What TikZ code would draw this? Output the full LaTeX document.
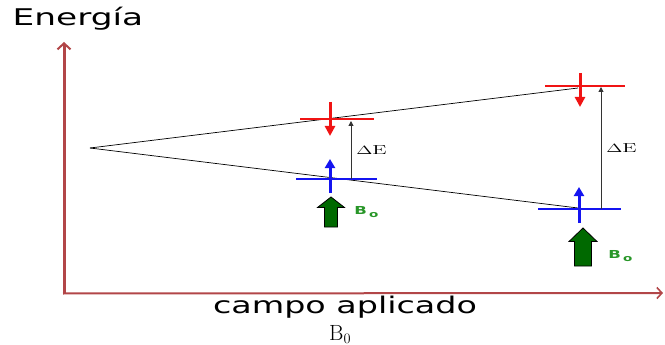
\documentclass[tikz,border=0pt]{standalone}
\usepackage{fontspec}
\newfontfamily\labfont{DejaVu Sans}
\usetikzlibrary{arrows.meta}
\definecolor{axisred}{RGB}{178,70,72}
\definecolor{lvred}{RGB}{240,20,20}
\definecolor{lvblue}{RGB}{20,20,240}
\definecolor{bgreen}{RGB}{0,105,0}
\definecolor{lgreen}{RGB}{40,150,40}
\tikzset{
  yaxis/.style={draw=axisred,line width=3pt,-{Straight Barb[length=6pt,width=13pt,line width=2pt]}},
  xaxis/.style={draw=axisred,line width=2pt,-{Straight Barb[length=5pt,width=11pt,line width=1.6pt]}},
  energyline/.style={draw=black,line width=0.7pt},
  redlevel/.style={draw=lvred,line width=1.8pt},
  bluelevel/.style={draw=lvblue,line width=1.8pt},
  redspin/.style={draw=lvred,line width=3pt,-{Triangle[length=10pt,width=10pt]}},
  bluespin/.style={draw=lvblue,line width=3pt,-{Triangle[length=9pt,width=10pt]}},
  gaparrow/.style={draw=black!80,line width=1pt,-{Triangle[length=5pt,width=5pt]}},
  dlabel/.style={font=\fontsize{13}{13}\selectfont,inner sep=0pt,xscale=1.65},
  blabel/.style={text=lgreen,font=\labfont\bfseries\fontsize{11}{11}\selectfont,inner sep=0pt,xscale=1.5},
  bigtext/.style={font=\labfont\fontsize{23}{23}\selectfont,inner sep=0pt,xscale=1.45},
  fieldarrow/.style={draw=black,line width=0.8pt,fill=bgreen},
}
\newcommand{\bsub}{B\hspace{1.5pt}\raisebox{-2.5pt}{\fontsize{9}{9}\selectfont o}}
\begin{document}
\begin{tikzpicture}[x=1pt,y=-1pt]
\useasboundingbox (0,0) rectangle (665,345);
% axes
\coordinate (O) at (64,294);
\coordinate (Ytop) at (64,42);
\coordinate (Xend) at (663,293);
\draw[yaxis] (O) -- (Ytop);
\draw[xaxis] (63,293.5) -- (Xend);
\node[bigtext,xscale=1.03] (elab) at (78,19) {Energía};
\node[bigtext] (clab) at (345,307) {campo aplicado};
\node[font=\fontsize{22}{22}\selectfont,inner sep=0pt,anchor=base west] (b0) at (329,340) {$\mathrm{B}_0$};
% energy lines
\coordinate (apex) at (90,148);
\coordinate (upR) at (578,88);
\coordinate (loR) at (578,208);
\draw[energyline] (apex) -- (upR);
\draw[energyline] (apex) -- (loR);
% middle levels
\coordinate (mr1) at (300,119); \coordinate (mr2) at (374,119);
\coordinate (mb1) at (296,179); \coordinate (mb2) at (377,179);
\draw[redlevel] (mr1) -- (mr2);
\draw[bluelevel] (mb1) -- (mb2);
\coordinate (mrs) at (330,102); \coordinate (mre) at (330,136);
\draw[redspin] (mrs) -- (mre);
\coordinate (mbs) at (330,193); \coordinate (mbe) at (330,159);
\draw[bluespin] (mbs) -- (mbe);
\coordinate (mgs) at (351,179); \coordinate (mge) at (351,121);
\draw[gaparrow] (mgs) -- (mge);
\node[dlabel,anchor=west] (mde) at (356,150) {$\Delta$E};
\draw[fieldarrow] (331,197) -- (344.5,207.5) -- (337.5,207.5) -- (337.5,227) -- (324.5,227) -- (324.5,207.5) -- (317.5,207.5) -- cycle;
\node[blabel,anchor=west] (mbl) at (354,212) {\bsub};
% right levels
\coordinate (rr1) at (545,86); \coordinate (rr2) at (625,86);
\coordinate (rb1) at (538,209); \coordinate (rb2) at (621,209);
\draw[redlevel] (rr1) -- (rr2);
\draw[bluelevel] (rb1) -- (rb2);
\coordinate (rrs) at (580,73); \coordinate (rre) at (580,107);
\draw[redspin] (rrs) -- (rre);
\coordinate (rbs) at (579,223); \coordinate (rbe) at (579,187);
\draw[bluespin] (rbs) -- (rbe);
\coordinate (rgs) at (601,209); \coordinate (rge) at (601,87);
\draw[gaparrow] (rgs) -- (rge);
\node[dlabel,anchor=west] (rde) at (606,148) {$\Delta$E};
\draw[fieldarrow] (583,228) -- (597,241.5) -- (591.5,241.5) -- (591.5,266) -- (574.5,266) -- (574.5,241.5) -- (569,241.5) -- cycle;
\node[blabel,anchor=west] (rbl) at (608,256) {\bsub};
\end{tikzpicture}
\end{document}
